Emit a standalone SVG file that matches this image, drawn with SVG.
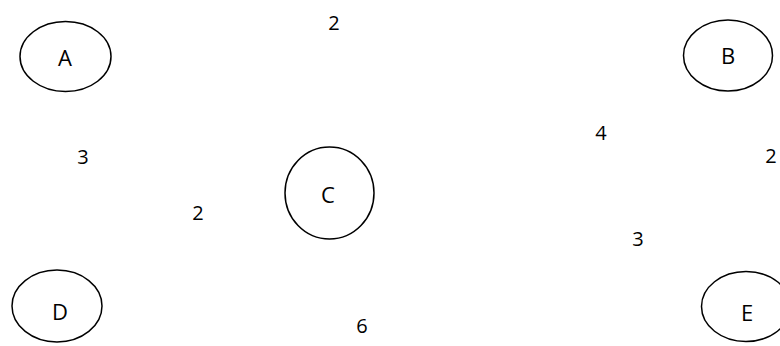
<svg xmlns="http://www.w3.org/2000/svg" width="780" height="346" viewBox="0 0 780 346">
<style>
.n{fill:#fff;stroke:#000;stroke-width:1.5}
.t{font-family:"Open Sans","Liberation Sans",sans-serif;font-size:20px;fill:#000;text-anchor:middle;dominant-baseline:central}
.l{font-size:22px}
</style>
<defs><clipPath id="cut"><rect x="340" y="300" width="40" height="33"/></clipPath></defs>
<rect width="780" height="346" fill="#fff"/>
<g id="connectors">
<text class="t" x="334" y="22">2</text>
<text class="t" x="83" y="156">3</text>
<text class="t" x="198" y="212">2</text>
<text class="t" x="601" y="132">4</text>
<text class="t" x="771" y="155">2</text>
<text class="t" x="638" y="238">3</text>
<text class="t" x="362" y="325" clip-path="url(#cut)">6</text>
</g>
<g id="A"><ellipse class="n" cx="65.5" cy="56.5" rx="45.5" ry="35"/><text class="t l" x="65" y="57">A</text></g>
<g id="B"><ellipse class="n" cx="728" cy="55.5" rx="44.5" ry="35.5"/><text class="t l" x="728" y="55">B</text></g>
<g id="C"><ellipse class="n" cx="329.5" cy="193" rx="44.5" ry="46"/><text class="t l" x="328" y="194">C</text></g>
<g id="D"><ellipse class="n" cx="57" cy="306" rx="45" ry="36"/><text class="t l" x="60" y="311">D</text></g>
<g id="E"><ellipse class="n" cx="746" cy="306.5" rx="44.5" ry="35"/><text class="t l" x="747" y="312">E</text></g>
</svg>
